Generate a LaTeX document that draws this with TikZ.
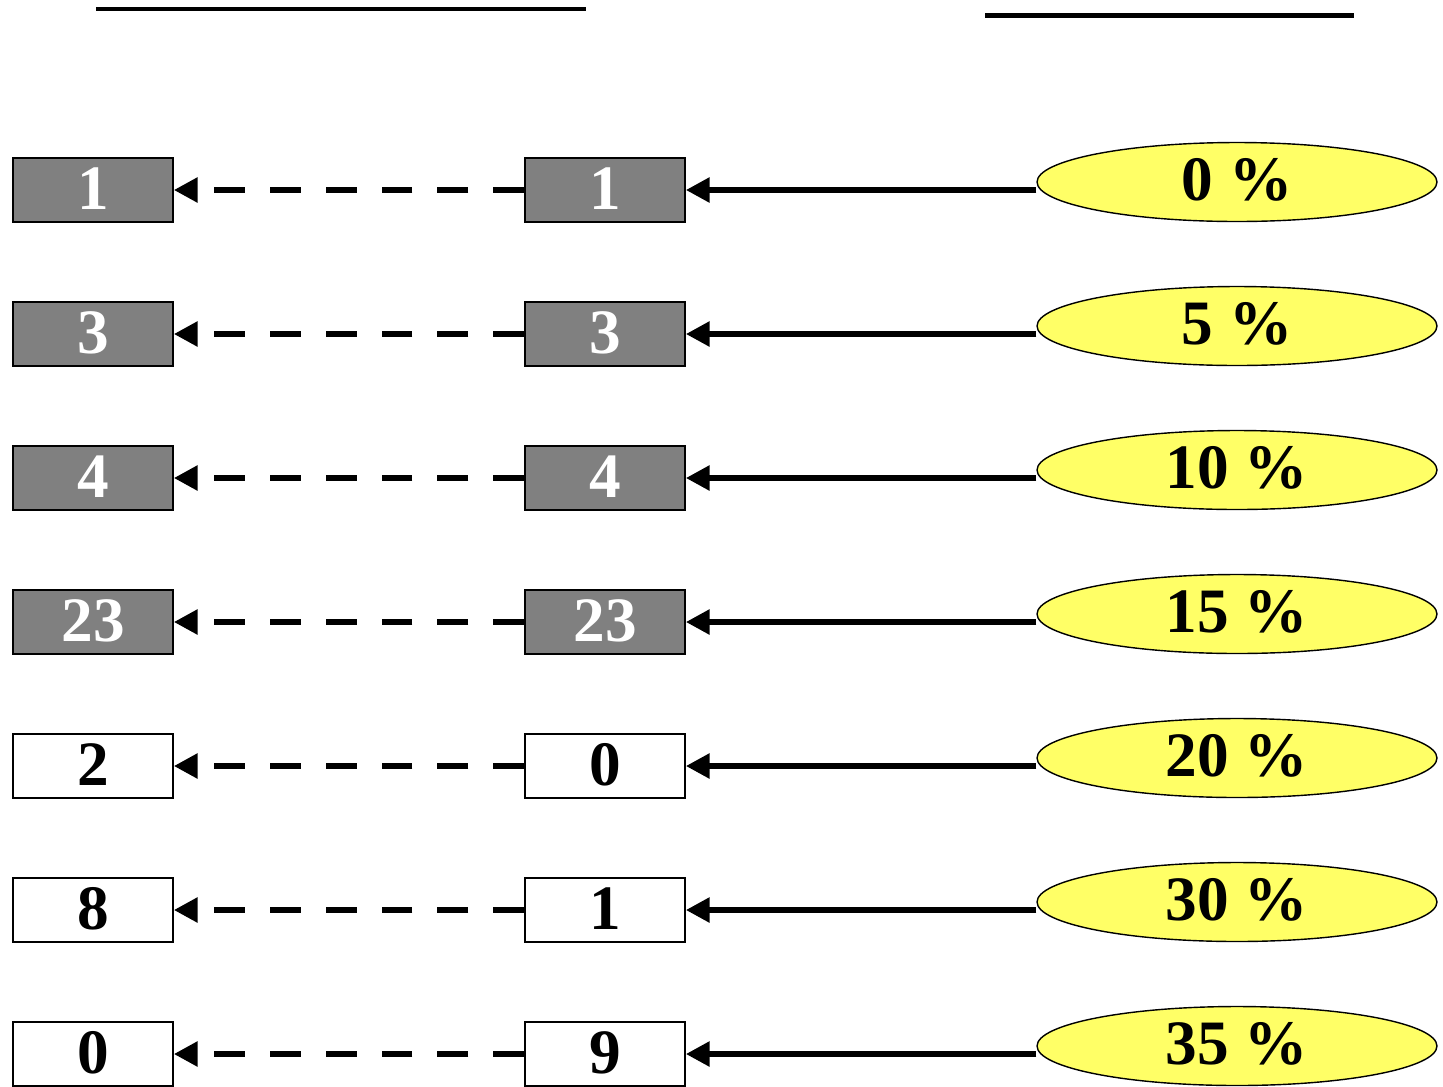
\documentclass[tikz,border=0pt]{standalone}
\usepackage{fontspec}
\setmainfont{Liberation Serif}
\usetikzlibrary{arrows.meta,shapes.geometric}
\definecolor{boxgray}{HTML}{808080}
\definecolor{ovalyellow}{HTML}{FFFF66}
\tikzset{
  numbox/.style={draw=black, line width=0.9pt, minimum width=3.2cm, minimum height=1.28cm, inner sep=0pt,
    font=\fontsize{36}{36}\selectfont\bfseries},
  graybox/.style={numbox, fill=boxgray, text=white},
  whitebox/.style={numbox, fill=white, text=black},
  pctoval/.style={ellipse, draw=black, line width=0.8pt, fill=ovalyellow, minimum width=8cm, minimum height=1.58cm,
    inner sep=0pt, font=\fontsize{36}{36}\selectfont\bfseries},
  solidarrow/.style={line width=3.6pt, -{Triangle[length=13.6pt,width=13.6pt]}},
  dasharrow/.style={line width=3.6pt, dash pattern=on 17.6pt off 14.2pt, -{Triangle[length=13.6pt,width=13.6pt]}},
  topline/.style={line width=2.3pt}
}
\begin{document}
\begin{tikzpicture}[x=0.02cm,y=-0.02cm]
\useasboundingbox (0,0) rectangle (1443,1086);
\fill[white] (0,0) rectangle (1443,1086);
% top rules
\coordinate (tl1) at (96,9);
\coordinate (tl2) at (586,9);
\coordinate (tr1) at (985,15.5);
\coordinate (tr2) at (1354,15.5);
\draw[topline] (tl1) -- (tl2);
\draw[topline] (tr1) -- (tr2);
% rows
\foreach \i/\yy/\lt/\mt/\pc/\st in {1/190/1/1/0/graybox, 2/334/3/3/5/graybox, 3/478/4/4/10/graybox, 4/622/23/23/15/graybox,
  5/766/2/0/20/whitebox, 6/910/8/1/30/whitebox, 7/1054/0/9/35/whitebox}{
  \node[\st] (l\i) at (93,\yy) {\raisebox{2pt}{\lt}};
  \node[\st] (m\i) at (605,\yy) {\raisebox{2pt}{\mt}};
  \node[pctoval] (e\i) at (1237,\yy-8) {\raisebox{3pt}{\pc\ \%}};
  \draw[solidarrow] (e\i.west |- m\i.east) -- (m\i.east);
  \draw[dasharrow] (m\i.west) -- (l\i.east);
}
\end{tikzpicture}
\end{document}
